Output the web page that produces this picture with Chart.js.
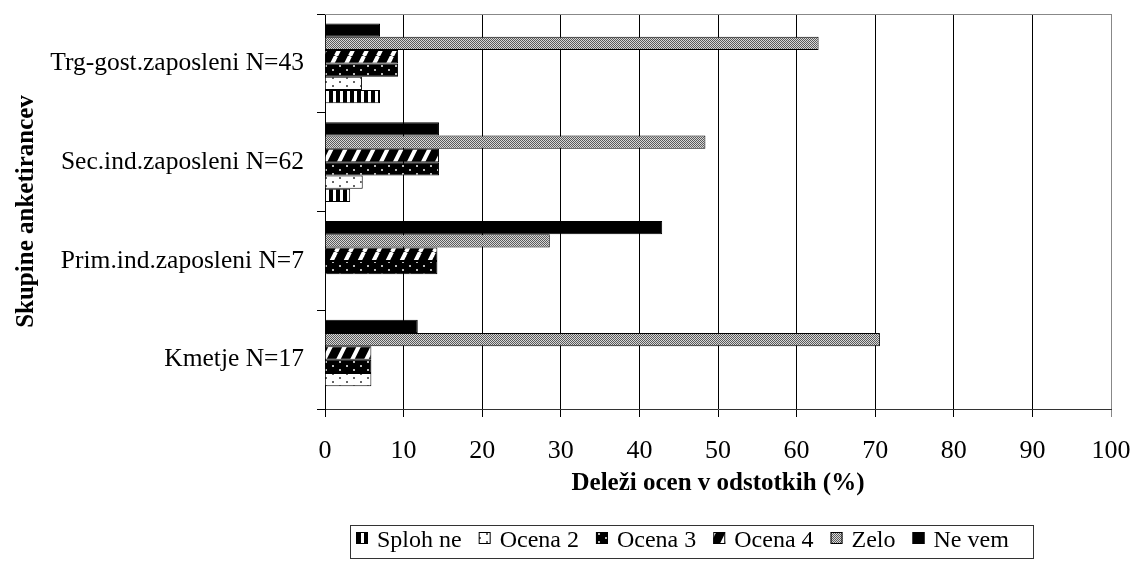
<!DOCTYPE html>
<html>
<head>
<meta charset="utf-8">
<script src="https://cdn.jsdelivr.net/npm/chart.js@4/dist/chart.umd.min.js"></script>
<style>
  html, body { margin: 0; padding: 0; background: #fff; }
  #wrap { width: 1135px; height: 561px; }
</style>
</head>
<body>
<div id="wrap"><canvas id="chart" width="1135" height="561"></canvas></div>
<script>
"use strict";

// Data (percent of answers per group)
const categories = ['Trg-gost.zaposleni N=43', 'Sec.ind.zaposleni N=62', 'Prim.ind.zaposleni N=7', 'Kmetje N=17'];
const neVem   = [7.0, 14.5, 42.9, 11.8];
const zelo    = [62.8, 48.4, 28.6, 70.6];
const ocena4  = [9.3, 14.5, 14.3, 5.9];
const ocena3  = [9.3, 14.5, 14.3, 5.9];
const ocena2  = [4.7, 4.8, 0, 5.9];
const splohNe = [7.0, 3.2, 0, 0];
const xTicks  = [0, 10, 20, 30, 40, 50, 60, 70, 80, 90, 100];

const FONT = "'Liberation Serif', 'Times New Roman', serif";

// Fill patterns
function makePattern(w, h, paint) {
    const c = document.createElement('canvas');
    c.width = w;
    c.height = h;
    const g = c.getContext('2d');
    paint(g);
    return g.createPattern(c, 'repeat');
}

const patSploh = makePattern(7, 1, g => {
    g.fillStyle = '#fff'; g.fillRect(0, 0, 7, 1);
    g.fillStyle = '#000'; g.fillRect(0, 0, 4, 1);
});
const patOcena2 = makePattern(14, 8, g => {
    g.fillStyle = '#fff'; g.fillRect(0, 0, 14, 8);
    g.fillStyle = '#666'; g.fillRect(3, 1, 2, 2); g.fillRect(10, 5, 2, 2);
});
const patOcena3 = makePattern(14, 8, g => {
    g.fillStyle = '#000'; g.fillRect(0, 0, 14, 8);
    g.fillStyle = '#bbb'; g.fillRect(3, 1, 2, 2); g.fillRect(10, 5, 2, 2);
});
const patOcena4 = makePattern(14, 28, g => {
    g.fillStyle = '#000'; g.fillRect(0, 0, 14, 28);
    g.strokeStyle = '#fff'; g.lineWidth = 4;
    for (const o of [-14, 0, 14]) {
        g.beginPath(); g.moveTo(o, 28); g.lineTo(o + 14, 0); g.stroke();
    }
});
const patZelo = makePattern(2, 2, g => {
    g.fillStyle = '#d8d8d8'; g.fillRect(0, 0, 2, 2);
    g.fillStyle = '#5a5a5a'; g.fillRect(0, 0, 1, 1); g.fillRect(1, 1, 1, 1);
});

function series(label, data, fill) {
    return {
        label: label,
        data: data,
        backgroundColor: fill,
        borderColor: '#000',
        borderWidth: 1,
        barPercentage: 1,
        categoryPercentage: 0.81
    };
}

// White page + grey top edge of the plot frame
const framePlugin = {
    id: 'frame',
    beforeDraw(chart) {
        const ctx = chart.ctx;
        ctx.save();
        ctx.fillStyle = '#fff';
        ctx.fillRect(0, 0, chart.width, chart.height);
        ctx.restore();
    },
    afterDatasetsDraw(chart) {
        const { ctx, chartArea: a } = chart;
        ctx.save();
        ctx.strokeStyle = '#888';
        ctx.lineWidth = 1;
        ctx.beginPath();
        ctx.moveTo(a.left, Math.round(a.top) + 0.5);
        ctx.lineTo(a.right, Math.round(a.top) + 0.5);
        ctx.stroke();
        ctx.restore();
    }
};

// Boxed legend, first series drawn first
const legendPlugin = {
    id: 'boxLegend',
    afterDraw(chart) {
        const ctx = chart.ctx;
        const items = chart.data.datasets.slice().reverse();
        ctx.save();
        ctx.font = '24px ' + FONT;
        ctx.textBaseline = 'alphabetic';
        let x = 356;
        items.forEach(ds => {
            ctx.fillStyle = ds.backgroundColor;
            ctx.fillRect(x, 532, 12, 12);
            ctx.strokeStyle = '#000';
            ctx.lineWidth = 1;
            ctx.strokeRect(x + 0.5, 532.5, 11, 11);
            ctx.fillStyle = '#000';
            ctx.fillText(ds.label, x + 21, 547);
            x += 21 + ctx.measureText(ds.label).width + 17;
        });
        ctx.strokeStyle = '#333';
        ctx.strokeRect(350.5, 525.5, 683, 33);
        ctx.restore();
    }
};

const ctx = document.getElementById('chart').getContext('2d');

new Chart(ctx, {
    type: 'bar',
    data: {
        labels: categories,
        datasets: [
            series('Ne vem', neVem, '#000'),
            series('Zelo', zelo, patZelo),
            series('Ocena 4', ocena4, patOcena4),
            series('Ocena 3', ocena3, patOcena3),
            series('Ocena 2', ocena2, patOcena2),
            series('Sploh ne', splohNe, patSploh)
        ]
    },
    options: {
        indexAxis: 'y',
        responsive: false,
        animation: false,
        devicePixelRatio: 1,
        layout: { padding: { top: 14, right: 24, bottom: 60, left: 0 } },
        plugins: {
            legend: { display: false },
            tooltip: { enabled: false }
        },
        scales: {
            x: {
                type: 'linear',
                min: 0,
                max: 100,
                afterBuildTicks: scale => { scale.ticks = xTicks.map(v => ({ value: v })); },
                afterFit: scale => {
                    scale.height = 92;
                    scale.paddingLeft = 0;
                    scale.paddingRight = 0;
                },
                grid: {
                    color: c => (c.index === xTicks.length - 1 ? '#888' : '#000'),
                    lineWidth: 1,
                    tickLength: 8
                },
                border: { color: '#333', width: 1 },
                ticks: {
                    color: '#000',
                    font: { family: FONT, size: 26 },
                    padding: 19,
                    maxRotation: 0,
                    autoSkip: false
                },
                title: {
                    display: true,
                    text: 'Deleži ocen v odstotkih (%)',
                    color: '#000',
                    font: { family: FONT, size: 25, weight: 'bold' },
                    padding: { top: 0, bottom: 2 }
                }
            },
            y: {
                afterFit: scale => {
                    scale.width = 325;
                    scale.paddingTop = 0;
                    scale.paddingBottom = 0;
                },
                grid: {
                    drawOnChartArea: false,
                    color: '#000',
                    tickLength: 8,
                    offset: true
                },
                border: { color: '#000', width: 1 },
                ticks: {
                    color: '#000',
                    font: { family: FONT, size: 25.5 },
                    padding: 13
                },
                title: {
                    display: true,
                    text: 'Skupine anketirancev',
                    color: '#000',
                    font: { family: FONT, size: 25, weight: 'bold' },
                    padding: { top: 12, bottom: 0 }
                }
            }
        }
    },
    plugins: [framePlugin, legendPlugin]
});
</script>
</body>
</html>
